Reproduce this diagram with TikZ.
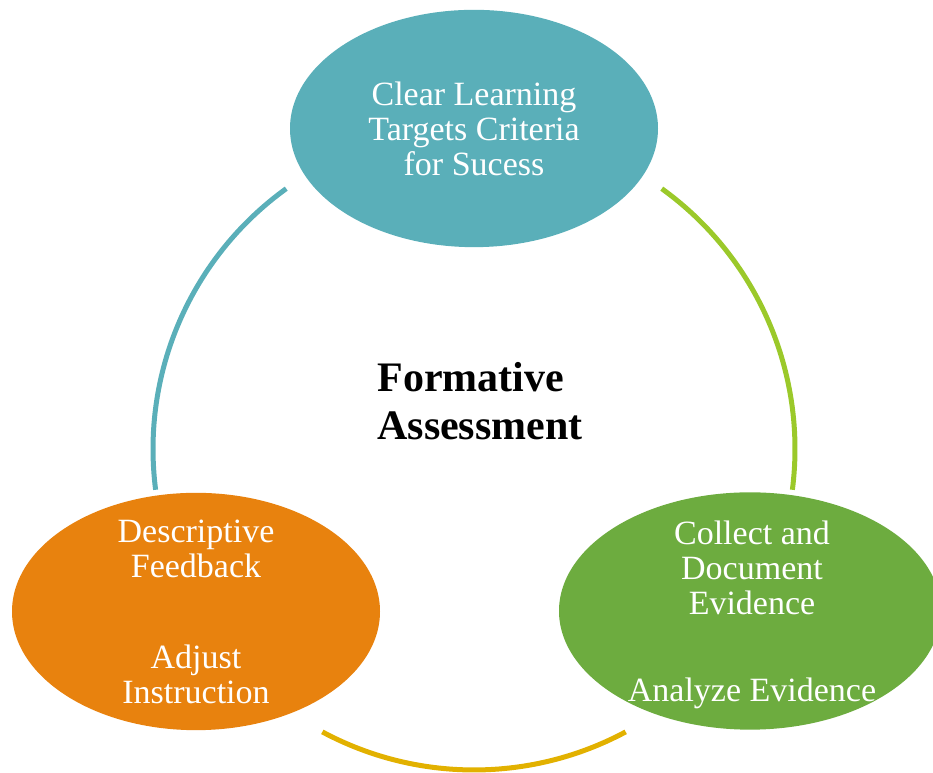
\documentclass[tikz,border=0pt]{standalone}
\usepackage{fontspec}
\setmainfont{Liberation Serif}
\usetikzlibrary{shapes.geometric}
\definecolor{cteal}{HTML}{5AAFB9}
\definecolor{corange}{HTML}{E8820E}
\definecolor{cgreen}{HTML}{6DAC3F}
\definecolor{clime}{HTML}{9BC92A}
\definecolor{cgold}{HTML}{E2B100}
\begin{document}
\begin{tikzpicture}[x=0.75pt,y=0.75pt,
  blob/.style={ellipse,inner sep=0pt,minimum width=276pt,minimum height=178pt},
  words/.style={text=white,align=center,font=\fontsize{25.5}{26.25}\selectfont},
  ring/.style={line width=3.75pt,line cap=butt}]
\clip (0,0) rectangle (933,773);
\node[blob,fill=cteal] (goals) at (474,644.5) {};
\node[blob,fill=corange] (feedback) at (196,161.5) {};
\node[blob,fill=cgreen,minimum width=286.5pt] (evidence) at (750,162) {};
\node[words] (goalstext) at (goals) {Clear Learning\\Targets Criteria\\for Sucess};
\node[words] (feedbacktext) at (feedback) {Descriptive\\Feedback\\[42pt]Adjust\\Instruction};
\node[words] (evidencetext) at (752,158) {Collect and\\Document\\Evidence\\[39pt]Analyze Evidence};
\node[font=\fontsize{31.5}{36}\selectfont\bfseries,align=left] (core) at (480,372) {Formative\\Assessment};

\coordinate (hub) at (474,324);
\draw[ring,draw=cteal] ([shift={(125.8:321)}]hub) arc[start angle=125.8,end angle=187.3,radius=321];
\draw[ring,draw=clime] ([shift={(54.2:321)}]hub) arc[start angle=54.2,end angle=-7.3,radius=321];
\draw[ring,draw=cgold] ([shift={(241.8:321)}]hub) arc[start angle=241.8,end angle=298.2,radius=321];
\end{tikzpicture}
\end{document}
